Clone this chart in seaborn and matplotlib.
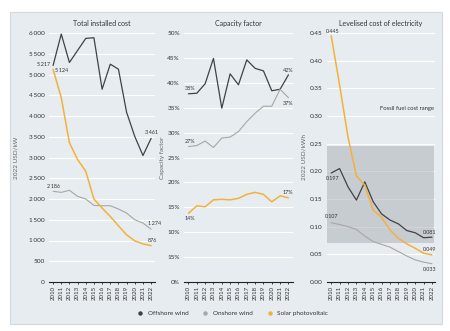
import matplotlib
matplotlib.use("Agg")
import matplotlib.pyplot as plt
from matplotlib.patches import Rectangle
from matplotlib.lines import Line2D
import pandas as pd
import seaborn as sns

# ---- data -------------------------------------------------------------
years = list(range(2010, 2023))
technologies = ["Offshore wind", "Onshore wind", "Solar photovoltaic"]

installed_offshore = [5217, 5975, 5290, 5580, 5870, 5886, 4645, 5249, 5128, 4088, 3507, 3048, 3461]
installed_onshore = [2186, 2160, 2209, 2064, 2000, 1846, 1838, 1838, 1758, 1661, 1500, 1420, 1274]
installed_solar = [5124, 4444, 3355, 2951, 2668, 2000, 1782, 1580, 1355, 1137, 992, 919, 876]

cf_offshore = [37.8, 37.9, 39.8, 44.9, 34.9, 41.8, 39.6, 44.6, 42.9, 42.4, 38.4, 38.7, 41.6]
cf_onshore = [27.2, 27.4, 28.3, 27.0, 28.9, 29.1, 30.2, 32.2, 33.9, 35.3, 35.3, 38.7, 37.0]
cf_solar = [13.8, 15.3, 15.1, 16.5, 16.6, 16.5, 16.8, 17.6, 18.0, 17.6, 16.1, 17.3, 16.9]

lcoe_offshore = [0.197, 0.205, 0.172, 0.148, 0.181, 0.145, 0.123, 0.112, 0.105, 0.093, 0.089, 0.080, 0.081]
lcoe_onshore = [0.107, 0.104, 0.100, 0.095, 0.083, 0.073, 0.068, 0.063, 0.055, 0.047, 0.040, 0.036, 0.033]
lcoe_solar = [0.445, 0.356, 0.262, 0.192, 0.175, 0.130, 0.117, 0.094, 0.079, 0.069, 0.061, 0.052, 0.049]

fossil_low, fossil_high = 0.070, 0.245

cost_ticks = [0, 500, 1000, 1500, 2000, 2500, 3000, 3500, 4000, 4500, 5000, 5500, 6000]
cost_tick_labels = ["0", "500", "1\u2009000", "1\u2009500", "2\u2009000", "2\u2009500", "3\u2009000",
                    "3\u2009500", "4\u2009000", "4\u2009500", "5\u2009000", "5\u2009500", "6\u2009000"]
cf_ticks = [0, 5, 10, 15, 20, 25, 30, 35, 40, 45, 50]
cf_tick_labels = ["0%", "15%", "10%", "15%", "20%", "25%", "30%", "35%", "40%", "45%", "50%"]
lcoe_ticks = [0.0, 0.05, 0.10, 0.15, 0.20, 0.25, 0.30, 0.35, 0.40, 0.45]
lcoe_tick_labels = ["0.00", "0.05", "0.10", "0.15", "0.20", "0.25", "0.30", "0.35", "0.40", "0.45"]

palette = {"Offshore wind": "#3f4347", "Onshore wind": "#a6a7a8", "Solar photovoltaic": "#f3b13a"}
widths = {"Offshore wind": 0.9, "Onshore wind": 0.8, "Solar photovoltaic": 1.1}


def long_table(off, on, sol, name):
    rows = []
    for tech, vals in zip(technologies, (off, on, sol)):
        for yr, v in zip(years, vals):
            rows.append({"year": yr, "tech": tech, name: v})
    return pd.DataFrame(rows)


df_cost = long_table(installed_offshore, installed_onshore, installed_solar, "value")
df_cf = long_table(cf_offshore, cf_onshore, cf_solar, "value")
df_lcoe = long_table(lcoe_offshore, lcoe_onshore, lcoe_solar, "value")

# ---- figure -----------------------------------------------------------
sns.set_theme(style="white")
plt.rcParams["font.family"] = ["Lato", "DejaVu Sans"]
W, H = 450, 331
fig = plt.figure(figsize=(W / 100, H / 100), dpi=100)
fig.patch.set_facecolor("white")

bg = "#e7ecf0"
fig.patches.append(Rectangle((10 / W, 1 - 324 / H), 431.7 / W, 312.3 / H,
                             transform=fig.transFigure, facecolor=bg,
                             edgecolor="#d3d8dc", linewidth=0.8, zorder=-10))

TXT = "#333333"
PX = 72 / 100  # points per pixel


def px_axes(left, right, top=33, bottom=282):
    ax = fig.add_axes([left / W, 1 - bottom / H, (right - left) / W, (bottom - top) / H])
    ax.set_zorder(1)
    return ax


def style(ax, ticks, labels, ylim, xlim, title, ylabel, ylabel_x):
    ax.set_facecolor("none")
    ax.set_ylim(*ylim)
    ax.set_xlim(*xlim)
    ax.set_yticks(ticks)
    ax.set_yticklabels(labels)
    ax.set_xticks(years)
    ax.set_xticklabels([str(y) for y in years], rotation=90)
    ax.yaxis.grid(True, color="white", linewidth=0.8, zorder=0)
    ax.xaxis.grid(False)
    for s in ("top", "right", "left"):
        ax.spines[s].set_visible(False)
    ax.spines["bottom"].set_color("#222222")
    ax.spines["bottom"].set_linewidth(0.8)
    ax.spines["bottom"].set_zorder(5)
    ax.tick_params(axis="y", length=0, pad=3.2, labelsize=4.6, labelcolor=TXT)
    ax.tick_params(axis="x", length=1.6, width=0.6, pad=1.2, labelsize=4.4,
                   labelcolor=TXT, color="#222222", direction="out", bottom=True)
    ax.set_title(title, fontsize=5.0, color=TXT, pad=5)
    ax.set_xlabel("")
    ax.set_ylabel(ylabel, fontsize=4.6, color="#666666")
    ax.yaxis.set_label_coords(ylabel_x, 0.5)
    ax.set_axisbelow(True)


def draw(ax, df):
    sns.lineplot(data=df, x="year", y="value", hue="tech", palette=palette,
                 hue_order=technologies, ax=ax, legend=False, linewidth=1.0, zorder=3)
    for line, tech in zip(ax.get_lines(), technologies):
        line.set_linewidth(widths[tech])


def label(ax, x, y, text, dx, dy, ha="center", va="center"):
    ax.annotate(text, (x, y), xytext=(dx * PX, dy * PX), textcoords="offset points",
                ha=ha, va=va, fontsize=3.9, color=TXT, zorder=6)


def thousands(v):
    return f"{v:,.0f}".replace(",", "\u2009")


# Total installed cost
ax1 = px_axes(49, 155.2)
draw(ax1, df_cost)
style(ax1, cost_ticks, cost_tick_labels, (0, 6000), (2009.5, 2022.5),
      "Total installed cost", "2022 USD/kW", -0.29)
label(ax1, 2010, installed_offshore[0], thousands(installed_offshore[0]), -3, 0.5, ha="right")
label(ax1, 2010, installed_solar[0], thousands(installed_solar[0]), 2, -1.5, ha="left")
label(ax1, 2022, installed_offshore[-1], thousands(installed_offshore[-1]), 0, 6)
label(ax1, 2010, installed_onshore[0], thousands(installed_onshore[0]), 0, 5)
label(ax1, 2022, installed_onshore[-1], thousands(installed_onshore[-1]), 3, 5.5)
label(ax1, 2022, installed_solar[-1], thousands(installed_solar[-1]), 1, 5)

# Capacity factor
ax2 = px_axes(184.3, 292.6)
draw(ax2, df_cf)
style(ax2, cf_ticks, cf_tick_labels, (0, 50), (2009.5, 2022.5),
      "Capacity factor", "Capacity factor", -0.18)
label(ax2, 2010, cf_offshore[0], f"{cf_offshore[0]:.0f}%", 1.5, 5)
label(ax2, 2010, cf_onshore[0], f"{cf_onshore[0]:.0f}%", 1.5, 5)
label(ax2, 2010, cf_solar[0], f"{cf_solar[0]:.0f}%", 1.5, -5)
label(ax2, 2022, cf_offshore[-1], f"{cf_offshore[-1]:.0f}%", -0.5, 4.5)
label(ax2, 2022, cf_onshore[-1], f"{cf_onshore[-1]:.0f}%", -0.5, -6)
label(ax2, 2022, cf_solar[-1], f"{cf_solar[-1]:.0f}%", -0.5, 5)

# Levelised cost of electricity
ax3 = px_axes(327, 434.5)
draw(ax3, df_lcoe)
ax3.fill_between([2009.5, 2022.25], fossil_low, fossil_high, color="#aeb2b6",
                 alpha=0.55, linewidth=0, zorder=1)
style(ax3, lcoe_ticks, lcoe_tick_labels, (0, 0.45), (2009.5, 2022.3),
      "Levelised cost of electricity", "2022 USD/kWh", -0.195)
ax3.text(2022.2, 0.314, "Fossil fuel cost range", ha="right", va="center",
         fontsize=4.2, color=TXT)
label(ax3, 2010, lcoe_solar[0], f"{lcoe_solar[0]:.3f}", 1, 4)
label(ax3, 2010, lcoe_offshore[0], f"{lcoe_offshore[0]:.3f}", 1, -6)
label(ax3, 2010, lcoe_onshore[0], f"{lcoe_onshore[0]:.3f}", 0.5, 6)
label(ax3, 2022, lcoe_offshore[-1], f"{lcoe_offshore[-1]:.3f}", -2.5, 4.5)
label(ax3, 2022, lcoe_solar[-1], f"{lcoe_solar[-1]:.3f}", -2.5, 5.5)
label(ax3, 2022, lcoe_onshore[-1], f"{lcoe_onshore[-1]:.3f}", -2.5, -6)

# legend
handles = [Line2D([], [], linestyle="none", marker="o", markersize=3.2,
                  markerfacecolor=palette[t], markeredgecolor="none") for t in technologies]
fig.legend(handles, technologies, loc="center", bbox_to_anchor=(231 / W, 1 - 313 / H),
           ncol=3, frameon=False, fontsize=4.6, handletextpad=0.2, columnspacing=1.6,
           labelcolor=TXT)

fig.savefig("out.png", dpi=100, facecolor="white")
